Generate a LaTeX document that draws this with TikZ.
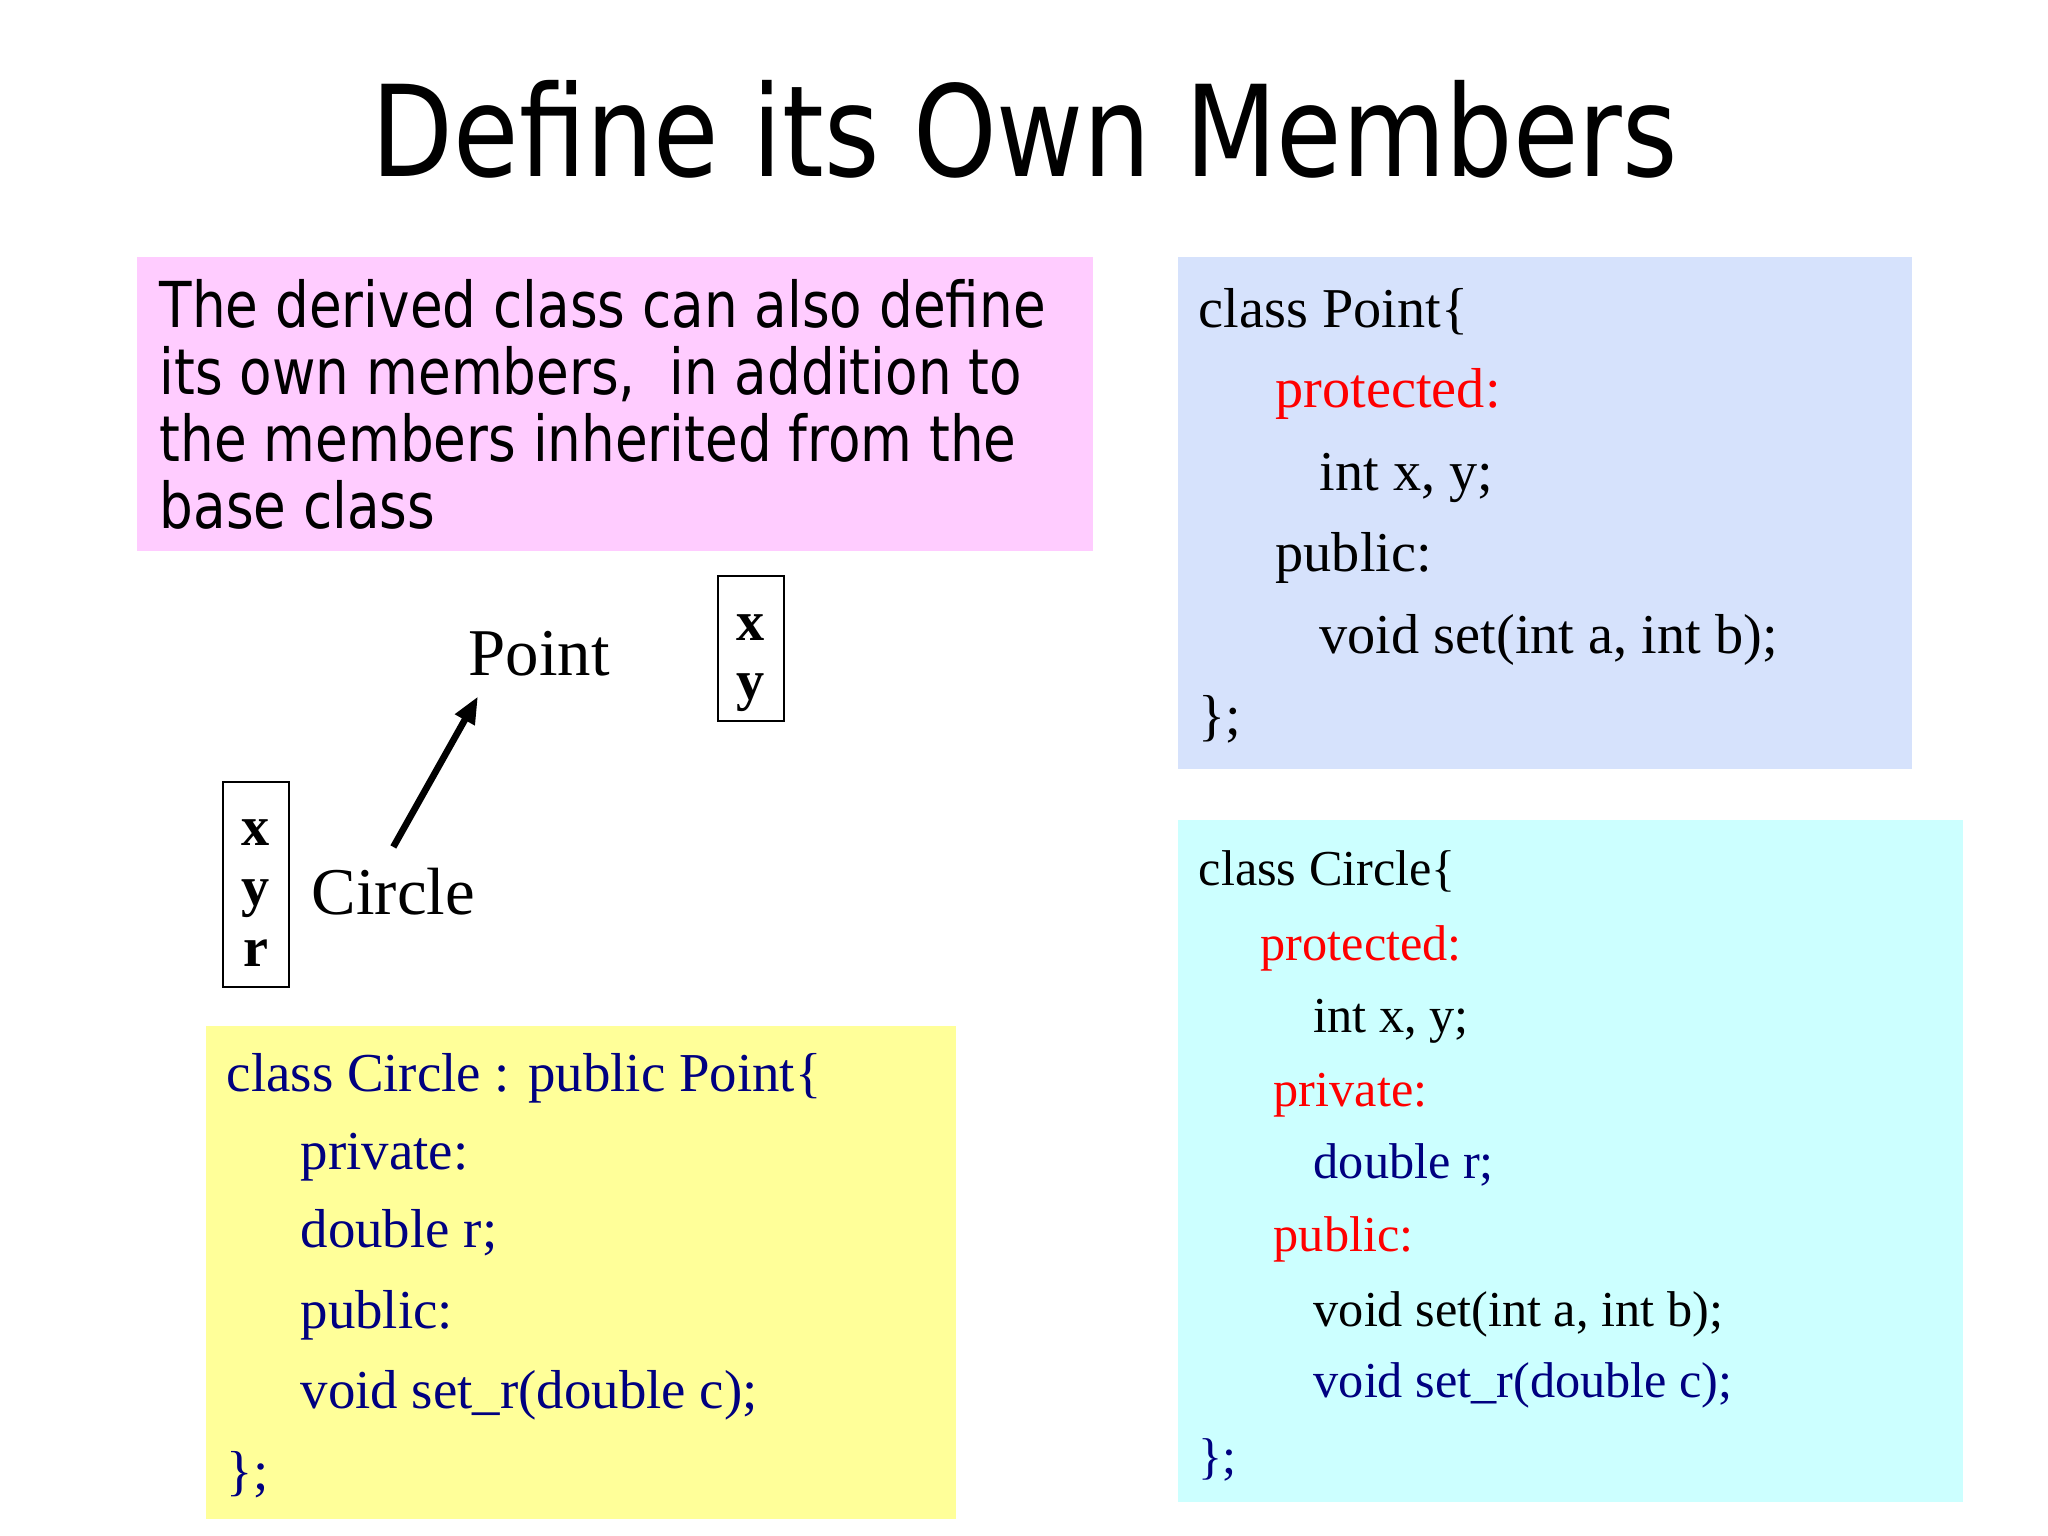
\documentclass[tikz,border=0pt]{standalone}
\usepackage{fontspec}
\setmainfont{Liberation Serif}
\newfontfamily\comicfont[FakeStretch=0.84]{DejaVu Sans}
\usetikzlibrary{arrows.meta}
\definecolor{pinkbg}{HTML}{FFCCFF}
\definecolor{bluebg}{HTML}{D6E2FC}
\definecolor{cyanbg}{HTML}{CCFFFF}
\definecolor{yellowbg}{HTML}{FFFF99}
\definecolor{navy}{HTML}{000080}
\tikzset{
  bgbox/.style={rectangle, inner sep=0pt, anchor=north west},
  pinktext/.style={anchor=base west, inner sep=0pt, font=\comicfont\fontsize{18}{21}\selectfont},
  codebig/.style={anchor=base west, inner sep=0pt, font=\fontsize{16}{19}\selectfont},
  codemid/.style={anchor=base west, inner sep=0pt, font=\fontsize{15.6}{18}\selectfont, text=navy},
  codesmall/.style={anchor=base west, inner sep=0pt, font=\fontsize{14.3}{17}\selectfont},
  classname/.style={anchor=base west, inner sep=0.2cm, font=\fontsize{19}{22}\selectfont},
  membox/.style={draw, line width=0.6pt, minimum width=0.66cm},
  member/.style={anchor=base, inner sep=0pt, font=\bfseries\fontsize{16}{17}\selectfont},
  inherit/.style={line width=1.9pt, -{Triangle[length=0.27cm, width=0.21cm]}}
}
\begin{document}
\begin{tikzpicture}[x=0.01cm, y=-0.01cm]
\useasboundingbox (0,0) rectangle (2048,1536);
% title
\node[anchor=base, inner sep=0pt, font=\comicfont\fontsize{36}{40}\selectfont] (title) at (1025,176) {Define its Own Members};
% coloured boxes
\node[bgbox, fill=pinkbg, minimum width=9.56cm, minimum height=2.94cm] (pinkbox) at (136,256) {};
\node[bgbox, fill=bluebg, minimum width=7.34cm, minimum height=5.12cm] (pointbox) at (1177,256) {};
\node[bgbox, fill=cyanbg, minimum width=7.85cm, minimum height=6.82cm] (circlebox) at (1177,819) {};
\node[bgbox, fill=yellowbg, minimum width=7.5cm, minimum height=4.93cm] (derivedbox) at (205,1025) {};
% note
\foreach \txt [count=\i] in {The derived class can also define, {its own members,~ in addition to}, the members inherited from the, base class}
  \node[pinktext] (note\i) at (159,{327+67*(\i-1)}) {\txt};
% class Point
\node[codebig] (pt1) at (1198,327) {class Point\{};
\node[codebig, text=red] (pt2) at (1275,407) {protected:};
\node[codebig] (pt3) at (1319,490) {int x, y;};
\node[codebig] (pt4) at (1275,571) {public:};
\node[codebig] (pt5) at (1319,653) {void set(int a, int b);};
\node[codebig] (pt6) at (1198,734) {\};};
% class Circle : public Point
\node[codemid] (dc1) at (226,1091) {class Circle : public Point\{};
\node[codemid] (dc2) at (300,1169) {private:};
\node[codemid] (dc3) at (300,1247) {double r;};
\node[codemid] (dc4) at (300,1328) {public:};
\node[codemid] (dc5) at (300,1408) {void set\_r(double c);};
\node[codemid] (dc6) at (226,1489) {\};};
% class Circle as a whole
\node[codesmall] (cc1) at (1198,885) {class Circle\{};
\node[codesmall, text=red] (cc2) at (1260,960) {protected:};
\node[codesmall] (cc3) at (1313,1032) {int x, y;};
\node[codesmall, text=red] (cc4) at (1273,1106) {private:};
\node[codesmall, text=navy] (cc5) at (1313,1178) {double r;};
\node[codesmall, text=red] (cc6) at (1273,1251) {public:};
\node[codesmall] (cc7) at (1313,1326) {void set(int a, int b);};
\node[codesmall, text=navy] (cc8) at (1313,1397) {void set\_r(double c);};
\node[codesmall, text=navy] (cc9) at (1198,1473) {\};};
% hierarchy
\node[classname] (point) at (448,675) {Point};
\node[classname] (circle) at (291,914) {Circle};
\node[membox, minimum height=1.45cm] (pointmem) at (751,648.5) {};
\node[membox, minimum height=2.05cm] (circlemem) at (256,884.5) {};
\node[member] (pmx) at (751,640) {x};
\node[member] (pmy) at (751,699) {y};
\foreach \m/\yy [count=\i] in {x/845, y/905, r/966}
  \node[member] (cm\i) at (256,\yy) {\m};
\draw[inherit] (circle.north) -- ([xshift=0.3cm]point.south west);
\end{tikzpicture}
\end{document}
